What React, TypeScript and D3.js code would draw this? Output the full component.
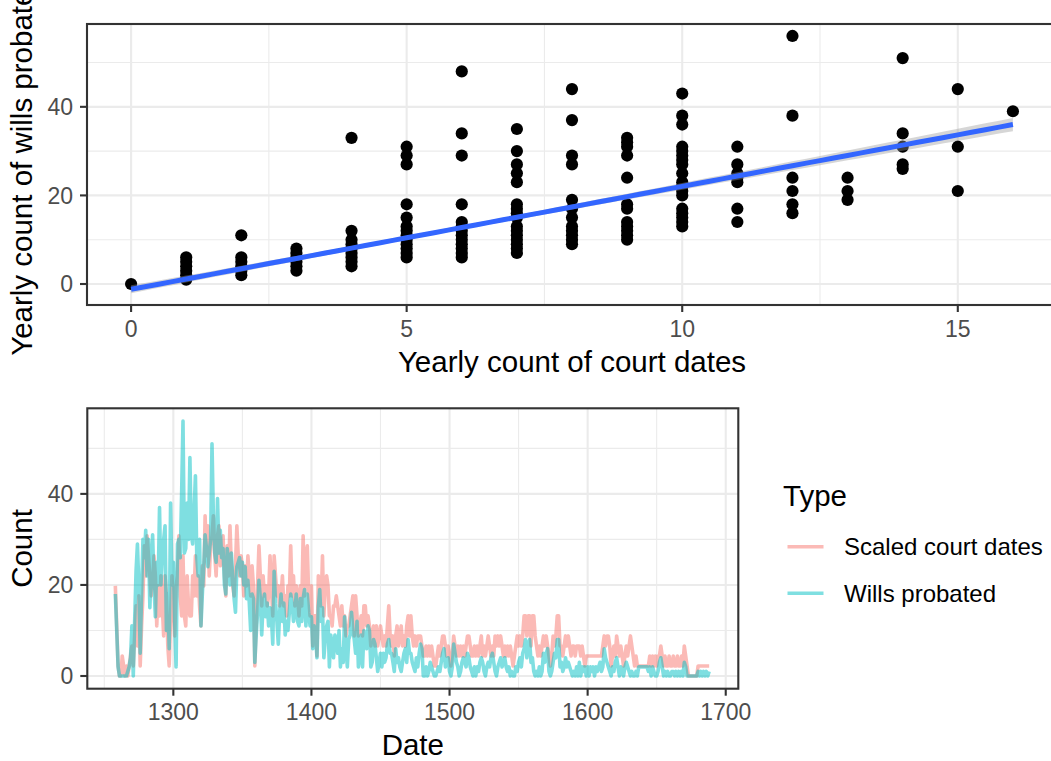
import React, { useEffect, useRef } from 'react';
import * as d3 from 'd3';

// ---- scatter: yearly wills probated, grouped by yearly count of court dates (index = court dates)
const scatterWills: number[][] = [
  [0],
  [1, 2, 3, 4, 5, 6],
  [2, 3, 4, 5, 6, 11],
  [3, 4, 5, 6, 7, 8],
  [4, 5, 6, 7, 8, 9, 10, 12, 33],
  [6, 7, 8, 9, 10, 11, 12, 13, 15, 18, 27, 29, 31],
  [6, 7, 8, 9, 10, 11, 12, 13, 14, 18, 29, 34, 48],
  [7, 8, 9, 10, 11, 12, 13, 15, 16, 17, 18, 23, 25, 27, 30, 35],
  [9, 10, 11, 12, 13, 15, 17, 19, 27, 29, 37, 44],
  [10, 11, 12, 13, 14, 17, 18, 24, 29, 31, 32, 33],
  [13, 14, 15, 16, 17, 20, 21, 22, 23, 25, 27, 28, 29, 30, 31, 36, 38, 43],
  [14, 17, 23, 24, 25, 27, 31],
  [16, 18, 21, 24, 38, 56],
  [19, 21, 24],
  [26, 27, 31, 34, 51],
  [21, 31, 44],
  [39],
];

// linear fit (geom_smooth, method = lm)
const fitIntercept = -1.2;
const fitSlope = 2.325;
const fitMeanX = 5.6;
const ciAtMean = 0.45;
const ciSlope = 0.1375;

// ---- time series, one value per year from startYear
const startYear = 1258;
const courtScale = 2.2;

const courtDates = [
  9, 5, 1, 0, 0, 2, 1, 0, 1, 0,
  1, 2, 3, 1, 4, 7, 3, 8, 1, 5,
  8, 13, 10, 14, 12, 10, 8, 9, 12, 10,
  5, 9, 6, 10, 7, 4, 10, 8, 3, 1,
  6, 10, 7, 4, 9, 10, 14, 8, 6, 12,
  6, 5, 10, 7, 6, 6, 10, 8, 12, 8,
  10, 7, 5, 11, 9, 16, 12, 15, 10, 13,
  14, 16, 12, 10, 14, 15, 11, 12, 14, 10,
  8, 13, 10, 15, 11, 9, 8, 11, 15, 12,
  10, 12, 11, 8, 11, 9, 12, 10, 8, 11,
  9, 1, 5, 9, 13, 10, 7, 10, 8, 9,
  7, 8, 12, 9, 6, 12, 10, 8, 9, 7,
  8, 10, 7, 8, 6, 9, 8, 13, 8, 10,
  7, 9, 8, 6, 9, 7, 14, 8, 12, 13,
  8, 6, 9, 3, 6, 6, 2, 10, 9, 7,
  12, 6, 9, 10, 9, 6, 6, 5, 7, 7,
  8, 7, 6, 5, 7, 5, 6, 4, 5, 5,
  6, 7, 8, 4, 8, 6, 4, 5, 6, 4,
  7, 7, 5, 6, 5, 3, 4, 5, 3, 5,
  3, 4, 5, 4, 3, 4, 3, 5, 7, 4,
  3, 4, 2, 4, 5, 3, 4, 5, 3, 4,
  3, 5, 6, 4, 6, 4, 3, 4, 3, 4,
  4, 4, 3, 2, 2, 3, 2, 3, 2, 3,
  2, 1, 1, 2, 3, 2, 3, 4, 4, 3,
  2, 3, 2, 1, 2, 4, 3, 2, 3, 2,
  3, 2, 3, 2, 3, 4, 4, 3, 2, 2,
  3, 2, 3, 2, 3, 4, 2, 3, 2, 3,
  4, 3, 2, 3, 2, 4, 3, 4, 3, 4,
  3, 2, 3, 2, 3, 2, 3, 2, 1, 2,
  3, 4, 3, 4, 3, 4, 6, 6, 4, 6,
  6, 3, 6, 6, 4, 3, 2, 3, 2, 3,
  4, 3, 4, 3, 2, 1, 2, 4, 3, 4,
  6, 6, 3, 3, 2, 3, 4, 3, 4, 3,
  2, 3, 3, 2, 3, 3, 3, 2, 3, 2,
  1, 2, 2, 2, 2, 2, 2, 2, 2, 2,
  2, 2, 2, 3, 4, 3, 4, 4, 3, 1,
  2, 3, 2, 4, 3, 2, 3, 2, 1, 2,
  3, 2, 3, 4, 3, 2, 1, 2, 1, 1,
  1, 1, 1, 1, 1, 1, 1, 2, 1, 2,
  1, 2, 1, 2, 2, 3, 2, 1, 2, 1,
  1, 2, 1, 1, 2, 1, 1, 2, 1, 1,
  2, 1, 3, 2, 1, 0, 0, 0, 0, 0,
  0, 0, 1, 1, 1, 1, 1, 1, 1, 1,
  1,
];

const willsProbated = [
  18, 10, 2, 0, 0, 0, 0, 0, 0, 1,
  2, 4, 11, 0, 12, 23, 29, 20, 5, 18,
  30, 26, 32, 22, 30, 15, 24, 31, 20, 13,
  25, 20, 37, 20, 26, 30, 33, 10, 18, 6,
  38, 20, 25, 12, 2, 29, 30, 26, 40, 56,
  27, 28, 38, 30, 48, 31, 29, 36, 44, 26,
  22, 30, 11, 18, 24, 31, 28, 24, 27, 30,
  51, 35, 27, 25, 39, 27, 32, 26, 28, 20,
  18, 28, 25, 20, 27, 22, 17, 14, 24, 25,
  26, 22, 25, 20, 24, 17, 21, 16, 10, 18,
  17, 3, 9, 14, 21, 17, 9, 16, 18, 13,
  16, 11, 15, 13, 7, 23, 16, 12, 7, 14,
  18, 12, 16, 9, 12, 10, 14, 18, 16, 12,
  14, 18, 12, 11, 17, 12, 17, 19, 11, 18,
  14, 11, 13, 6, 11, 9, 4, 15, 19, 12,
  15, 4, 8, 11, 12, 2, 9, 7, 4, 9,
  8, 5, 10, 2, 6, 3, 13, 6, 2, 8,
  9, 14, 10, 8, 5, 12, 2, 4, 9, 2,
  10, 8, 6, 11, 10, 2, 3, 8, 7, 4,
  1, 3, 5, 2, 5, 3, 4, 7, 8, 5,
  5, 3, 1, 6, 3, 4, 2, 1, 3, 5,
  6, 3, 8, 5, 5, 3, 2, 1, 4, 2,
  5, 7, 6, 0, 0, 2, 0, 1, 3, 2,
  1, 0, 0, 1, 2, 1, 3, 5, 6, 2,
  3, 4, 1, 0, 2, 7, 5, 3, 2, 0,
  1, 3, 4, 3, 2, 5, 4, 2, 1, 0,
  2, 0, 2, 1, 3, 4, 3, 1, 0, 2,
  3, 2, 4, 5, 3, 1, 0, 2, 3, 4,
  2, 3, 4, 2, 1, 2, 0, 1, 0, 0,
  2, 1, 3, 4, 2, 5, 6, 8, 4, 7,
  8, 3, 4, 1, 0, 1, 0, 2, 0, 1,
  5, 3, 5, 6, 1, 0, 1, 3, 5, 4,
  8, 8, 2, 3, 1, 2, 4, 2, 3, 2,
  1, 0, 1, 0, 2, 0, 3, 0, 2, 1,
  2, 0, 2, 0, 2, 1, 2, 0, 2, 1,
  2, 3, 1, 2, 6, 4, 3, 2, 1, 0,
  2, 1, 3, 4, 2, 0, 2, 1, 0, 2,
  3, 2, 1, 0, 1, 0, 0, 1, 0, 2,
  2, 2, 2, 2, 2, 2, 1, 2, 0, 2,
  1, 0, 0, 1, 3, 4, 2, 0, 1, 0,
  1, 0, 0, 1, 1, 0, 1, 0, 1, 0,
  1, 0, 3, 2, 0, 0, 0, 0, 0, 0,
  0, 0, 1, 0, 1, 0, 1, 0, 1, 0,
  1,
];

const seriesNames = ['Scaled court dates', 'Wills probated'];
const seriesColors = ['#F8766D', '#00BFC4'];

const topXTicks = [0, 5, 10, 15];
const topXMinor = [2.5, 7.5, 12.5];
const yTicks = [0, 20, 40];
const yMinor = [10, 30, 50];
const dateTicks = [1300, 1400, 1500, 1600, 1700];
const dateMinor = [1250, 1350, 1450, 1550, 1650];

const W = 1051;
const H = 761;
const FONT = '"Liberation Sans", Arial, Helvetica, sans-serif';
const titleSize = 29.5;
const tickSize = 23;
const legendSize = 24;

type Box = { left: number; right: number; top: number; bottom: number };

const App = () => {
  const ref = useRef<SVGSVGElement>(null);

  useEffect(() => {
    const svg = d3.select(ref.current);
    svg.selectAll('*').remove();
    svg.append('rect').attr('width', W).attr('height', H).attr('fill', 'white');

    const drawPanel = (
      box: Box,
      x: d3.ScaleLinear<number, number>,
      y: d3.ScaleLinear<number, number>,
      xMajor: number[], xMinor: number[], clipId: string
    ) => {
      const g = svg.append('g');
      g.append('defs').append('clipPath').attr('id', clipId)
        .append('rect')
        .attr('x', box.left).attr('y', box.top)
        .attr('width', box.right - box.left).attr('height', box.bottom - box.top);

      // minor grid
      g.selectAll('.vminor').data(xMinor).enter().append('line')
        .attr('x1', d => x(d)).attr('x2', d => x(d))
        .attr('y1', box.top).attr('y2', box.bottom)
        .attr('stroke', '#EBEBEB').attr('stroke-width', 1.1);
      g.selectAll('.hminor').data(yMinor).enter().append('line')
        .attr('y1', d => y(d)).attr('y2', d => y(d))
        .attr('x1', box.left).attr('x2', box.right)
        .attr('stroke', '#EBEBEB').attr('stroke-width', 1.1);
      // major grid
      g.selectAll('.vmajor').data(xMajor).enter().append('line')
        .attr('x1', d => x(d)).attr('x2', d => x(d))
        .attr('y1', box.top).attr('y2', box.bottom)
        .attr('stroke', '#EBEBEB').attr('stroke-width', 2.1);
      g.selectAll('.hmajor').data(yTicks).enter().append('line')
        .attr('y1', d => y(d)).attr('y2', d => y(d))
        .attr('x1', box.left).attr('x2', box.right)
        .attr('stroke', '#EBEBEB').attr('stroke-width', 2.1);

      // ticks + labels
      g.selectAll('.xt').data(xMajor).enter().append('line')
        .attr('x1', d => x(d)).attr('x2', d => x(d))
        .attr('y1', box.bottom).attr('y2', box.bottom + 7)
        .attr('stroke', '#333333').attr('stroke-width', 2.1);
      g.selectAll('.xl').data(xMajor).enter().append('text')
        .attr('x', d => x(d)).attr('y', box.bottom + 31.5)
        .attr('text-anchor', 'middle')
        .attr('font-size', tickSize).attr('fill', '#4D4D4D')
        .text(d => String(d));
      g.selectAll('.yt').data(yTicks).enter().append('line')
        .attr('y1', d => y(d)).attr('y2', d => y(d))
        .attr('x1', box.left - 7).attr('x2', box.left)
        .attr('stroke', '#333333').attr('stroke-width', 2.1);
      g.selectAll('.yl').data(yTicks).enter().append('text')
        .attr('x', box.left - 14).attr('y', d => y(d))
        .attr('dy', '0.36em')
        .attr('text-anchor', 'end')
        .attr('font-size', tickSize).attr('fill', '#4D4D4D')
        .text(d => String(d));

      const plot = g.append('g').attr('clip-path', `url(#${clipId})`);
      const border = () => g.append('rect')
        .attr('x', box.left).attr('y', box.top)
        .attr('width', box.right - box.left).attr('height', box.bottom - box.top)
        .attr('fill', 'none').attr('stroke', '#333333').attr('stroke-width', 2.1);
      return { g, plot, border };
    };

    svg.attr('font-family', FONT);

    // ------------- top: scatter -------------
    const topBox: Box = { left: 87, right: 1057, top: 24, bottom: 305 };
    const xTop = d3.scaleLinear().domain([-0.8, 16.8]).range([topBox.left, topBox.right]);
    const yTop = d3.scaleLinear().domain([-4.74, 58.7]).range([topBox.bottom, topBox.top]);
    const top = drawPanel(topBox, xTop, yTop, topXTicks, topXMinor, 'clipTop');

    const points = scatterWills.flatMap((ws, c) => ws.map(w => ({ c, w })));
    top.plot.selectAll('circle').data(points).enter().append('circle')
      .attr('cx', d => xTop(d.c)).attr('cy', d => yTop(d.w))
      .attr('r', 6.1).attr('fill', 'black');

    const fitX = d3.range(0, 16.01, 0.25);
    const ci = (xv: number) => Math.sqrt(ciAtMean * ciAtMean + (ciSlope * (xv - fitMeanX)) ** 2);
    const fit = (xv: number) => fitIntercept + fitSlope * xv;
    top.plot.append('path')
      .datum(fitX)
      .attr('d', d3.area<number>()
        .x(d => xTop(d)).y0(d => yTop(fit(d) - ci(d))).y1(d => yTop(fit(d) + ci(d))))
      .attr('fill', '#999999').attr('fill-opacity', 0.4);
    top.plot.append('path')
      .datum(fitX)
      .attr('d', d3.line<number>().x(d => xTop(d)).y(d => yTop(fit(d))))
      .attr('fill', 'none').attr('stroke', '#3366FF').attr('stroke-width', 5);
    top.border();

    svg.append('text')
      .attr('x', 572).attr('y', 372)
      .attr('text-anchor', 'middle').attr('font-size', titleSize).attr('fill', 'black')
      .text('Yearly count of court dates');
    svg.append('text')
      .attr('transform', `translate(32,${(topBox.top + topBox.bottom) / 2}) rotate(-90)`)
      .attr('text-anchor', 'middle').attr('font-size', titleSize).attr('fill', 'black')
      .text('Yearly count of wills probated');

    // ------------- bottom: time series -------------
    const botBox: Box = { left: 87.3, right: 738.3, top: 408.3, bottom: 688.7 };
    const xBot = d3.scaleLinear().domain([1237.7, 1709.1]).range([botBox.left, botBox.right]);
    const yBot = d3.scaleLinear().domain([-2.79, 58.8]).range([botBox.bottom, botBox.top]);
    const bot = drawPanel(botBox, xBot, yBot, dateTicks, dateMinor, 'clipBot');

    const series = [
      courtDates.map((c, i) => ({ year: startYear + i, v: c * courtScale })),
      willsProbated.map((w, i) => ({ year: startYear + i, v: w })),
    ];
    const line = d3.line<{ year: number; v: number }>()
      .x(d => xBot(d.year)).y(d => yBot(d.v));
    series.forEach((s, i) => {
      bot.plot.append('path')
        .datum(s)
        .attr('d', line)
        .attr('fill', 'none')
        .attr('stroke', seriesColors[i])
        .attr('stroke-opacity', 0.5)
        .attr('stroke-width', 3.6)
        .attr('stroke-linejoin', 'round');
    });
    bot.border();

    svg.append('text')
      .attr('x', (botBox.left + botBox.right) / 2).attr('y', 755)
      .attr('text-anchor', 'middle').attr('font-size', titleSize).attr('fill', 'black')
      .text('Date');
    svg.append('text')
      .attr('transform', `translate(32,${(botBox.top + botBox.bottom) / 2}) rotate(-90)`)
      .attr('text-anchor', 'middle').attr('font-size', titleSize).attr('fill', 'black')
      .text('Count');

    // ------------- legend -------------
    const legend = svg.append('g');
    legend.append('text')
      .attr('x', 783).attr('y', 506)
      .attr('font-size', titleSize).attr('fill', 'black')
      .text('Type');
    const items = legend.selectAll('.item').data(seriesNames).enter().append('g')
      .attr('transform', (d, i) => `translate(0,${546.7 + i * 46.6})`);
    items.append('line')
      .attr('x1', 787.5).attr('x2', 823.5).attr('y1', 0).attr('y2', 0)
      .attr('stroke', (d, i) => seriesColors[i])
      .attr('stroke-opacity', 0.5).attr('stroke-width', 3.6);
    items.append('text')
      .attr('x', 844).attr('y', 0).attr('dy', '0.36em')
      .attr('font-size', legendSize).attr('fill', 'black')
      .text(d => d);
  }, []);

  return (
    <div style={{ position: 'absolute', left: 0, top: 0 }}>
      <svg ref={ref} width={W} height={H} style={{ display: 'block' }} />
    </div>
  );
};

export default App;
